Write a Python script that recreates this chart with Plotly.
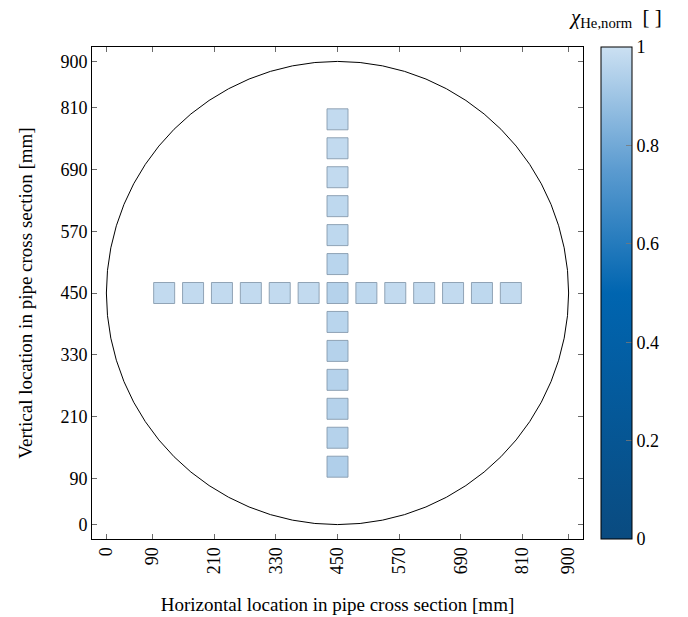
import plotly.graph_objects as go

# ---- data ----
pipe_diameter = 900  # mm
tick_vals = [0, 90, 210, 330, 450, 570, 690, 810, 900]
tick_text = ["0", "90", "210", "330", "450", "570", "690", "810", "900"]

# horizontal traverse (y = 450)
h_x = [112.5, 168.75, 225, 281.25, 337.5, 393.75, 506.25, 562.5, 618.75, 675, 731.25, 787.5]
h_y = [450] * 12
h_val = [0.98, 0.98, 0.98, 0.98, 0.98, 0.98, 0.97, 0.98, 0.98, 0.98, 0.97, 0.98]

# vertical traverse (x = 450), including centre
v_x = [450] * 13
v_y = [112.5, 168.75, 225, 281.25, 337.5, 393.75, 450, 506.25, 562.5, 618.75, 675, 731.25, 787.5]
v_val = [0.94, 0.95, 0.95, 0.95, 0.95, 0.96, 0.95, 0.96, 0.97, 0.97, 0.98, 0.98, 0.98]

cb_ticks = [0, 0.2, 0.4, 0.6, 0.8, 1]
cb_text = ["0", "0.2", "0.4", "0.6", "0.8", "1"]

colorscale = [
    [0.0, "#0a4b80"],
    [0.5, "#0065b0"],
    [0.75, "#5b9bd0"],
    [1.0, "#cbe0f2"],
]

font_family = "Liberation Serif"

xs = h_x + v_x
ys = h_y + v_y
vals = h_val + v_val

fig = go.Figure()

fig.add_trace(go.Scatter(
    x=xs, y=ys, mode="markers",
    marker=dict(
        symbol="square", size=21,
        color=vals, colorscale=colorscale, cmin=0, cmax=1,
        line=dict(color="rgba(130,150,170,0.85)", width=1),
        showscale=True,
        colorbar=dict(
            xref="container", x=601 / 688, xanchor="left",
            yref="paper", y=0.5, yanchor="middle", len=1, lenmode="fraction",
            thickness=31, thicknessmode="pixels",
            outlinecolor="black", outlinewidth=1,
            tickvals=cb_ticks, ticktext=cb_text,
            ticks="inside", ticklen=6, tickcolor="rgba(120,120,120,0.8)",
            tickfont=dict(family=font_family, size=18, color="black"),
            xpad=0, ypad=0,
        ),
    ),
    showlegend=False,
    hoverinfo="x+y",
))

fig.add_shape(type="circle", xref="x", yref="y",
              x0=0, y0=0, x1=pipe_diameter, y1=pipe_diameter,
              line=dict(color="black", width=1), layer="below")

axis_common = dict(
    range=[-28, 928],
    tickvals=tick_vals, ticktext=tick_text,
    showgrid=False, zeroline=False, automargin=False,
    showline=True, linecolor="black", linewidth=1, mirror="allticks",
    ticks="inside", ticklen=5, tickcolor="rgba(90,90,90,0.9)",
    tickfont=dict(family=font_family, size=18, color="black"),
)

fig.update_layout(
    width=688, height=617,
    margin=dict(l=92, r=105, t=47, b=78, autoexpand=False),
    paper_bgcolor="white", plot_bgcolor="white",
    font=dict(family=font_family, color="black"),
    xaxis=dict(**axis_common, tickangle=-90,
               title=dict(text="Horizontal location in pipe cross section [mm]",
                          font=dict(family=font_family, size=19), standoff=24)),
    yaxis=dict(**axis_common,
               title=dict(text="Vertical location in pipe cross section [mm]",
                          font=dict(family=font_family, size=19), standoff=22)),
    annotations=[dict(
        text="<i>χ</i><sub>He,norm</sub>  [ ]",
        xref="paper", yref="paper",
        x=(615 - 92) / 491, y=(539 - 18) / 492,
        xanchor="center", yanchor="middle", showarrow=False,
        font=dict(family=font_family, size=21, color="black"),
    )],
)

fig.write_html("out.html")
